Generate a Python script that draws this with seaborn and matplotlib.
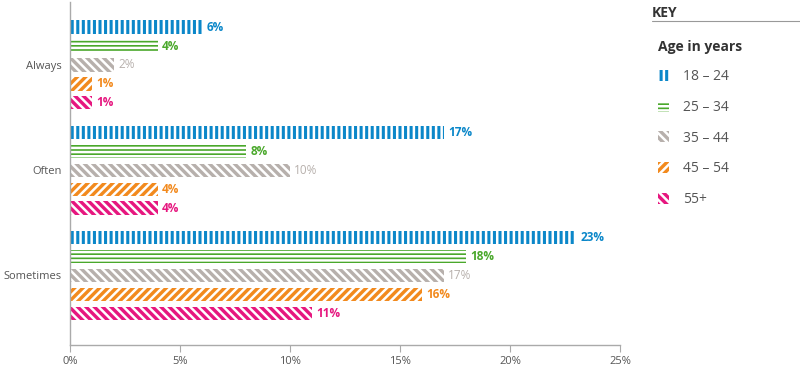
import matplotlib
matplotlib.use("Agg")
import matplotlib.pyplot as plt
import seaborn as sns
import pandas as pd

# values (percent)
frequency = ["Always", "Often", "Sometimes"]
age_groups = ["18 \u2013 24", "25 \u2013 34", "35 \u2013 44", "45 \u2013 54", "55+"]
age_18_24 = [6, 17, 23]
age_25_34 = [4, 8, 18]
age_35_44 = [2, 10, 17]
age_45_54 = [1, 4, 16]
age_55_plus = [1, 4, 11]

colors = ["#0b87c9", "#4aa82b", "#b7b0ac", "#f28a1e", "#e6177f"]
hatches = ["|||", "----", "\\\\\\\\", "////", "\\\\\\\\"]

series = [age_18_24, age_25_34, age_35_44, age_45_54, age_55_plus]
rows = []
for grp, vals in zip(age_groups, series):
    for f, v in zip(frequency, vals):
        rows.append({"frequency": f, "age": grp, "pct": v})
df = pd.DataFrame(rows)

sns.set_style("white")
plt.rcParams["font.family"] = ["Open Sans", "DejaVu Sans"]
plt.rcParams["hatch.linewidth"] = 1.8

fig = plt.figure(figsize=(8, 3.72), dpi=100)
ax = fig.add_axes([0.0875, 0.073, 0.6875, 0.922])

sns.barplot(data=df, y="frequency", x="pct", hue="age", order=frequency,
            hue_order=age_groups, palette=colors, orient="h", saturation=1,
            width=0.9, gap=0.3, ax=ax, legend=False)

for i, cont in enumerate(ax.containers):
    for bar in cont:
        bar.set_hatch(hatches[i])
        bar.set_edgecolor("white")
        bar.set_linewidth(0)
    ax.bar_label(cont, labels=[f"{v}%" for v in series[i]], padding=3,
                 color=colors[i], fontsize=8.5,
                 fontweight="normal" if i == 2 else "bold")

ax.set_xlim(0, 25)
ax.set_ylim(2.66, -0.6)
ax.set_xticks([0, 5, 10, 15, 20, 25])
ax.set_xticklabels([f"{t}%" for t in [0, 5, 10, 15, 20, 25]])
ax.set_xlabel("")
ax.set_ylabel("")
for s in ["top", "right"]:
    ax.spines[s].set_visible(False)
for s in ["left", "bottom"]:
    ax.spines[s].set_color("#aaaaaa")
    ax.spines[s].set_linewidth(1)
ax.tick_params(axis="x", length=5, color="#aaaaaa", labelsize=8,
               labelcolor="#555555", bottom=True, pad=3)
ax.tick_params(axis="y", length=0, labelsize=8, labelcolor="#555555", pad=6)

# key
fig.text(652 / 800, 1 - 13 / 372, "KEY", fontsize=10, fontweight="bold",
         color="#333333", va="center")
fig.add_artist(plt.Line2D([652 / 800, 1.0], [1 - 21 / 372] * 2,
                          color="#999999", lw=0.8))
handles = list(ax.containers)
leg = fig.legend([c[0] for c in handles], age_groups, loc="upper left",
                 bbox_to_anchor=(645 / 800, 1 - 27 / 372), frameon=False,
                 title="Age in years", alignment="left",
                 handlelength=0.85, handleheight=0.85, handletextpad=1.0,
                 labelspacing=1.13, fontsize=10, title_fontsize=10)
leg.get_title().set_fontweight("bold")
leg.get_title().set_color("#333333")
for t in leg.get_texts():
    t.set_color("#555555")

fig.savefig("out.png", dpi=100)
